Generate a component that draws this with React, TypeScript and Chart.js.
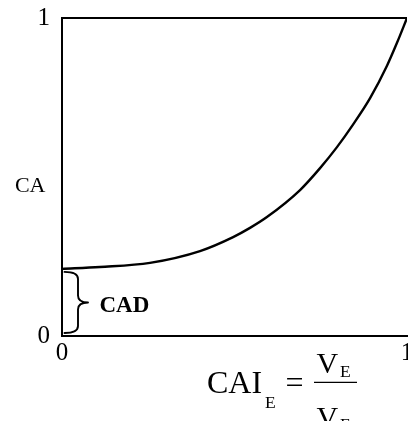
import React, { useEffect, useRef } from "react";
import { Chart, registerables } from "chart.js";

Chart.register(...registerables);

// CAI_E values (x) and CA values (y)
const caiValues = [0, 0.11, 0.255, 0.4, 0.496, 0.545, 0.594, 0.69, 0.748, 0.797, 0.843, 0.893, 0.942, 0.971, 1.0];
const caValues = [0.211, 0.217, 0.23, 0.267, 0.311, 0.34, 0.374, 0.459, 0.528, 0.594, 0.664, 0.748, 0.850, 0.922, 1.0];
const xTickValues = [0, 1];
const yTickValues = [0, 1];
const yAxisLabel = "CA";
const braceLabel = "CAD";

const SERIF = "'Liberation Serif', 'Times New Roman', serif";

const annotations = {
  id: "annotations",
  afterDraw(chart: any) {
    const { ctx, chartArea, scales } = chart;
    const left = chartArea.left;
    const bottom = chartArea.bottom;
    const y = scales.y;
    ctx.save();
    ctx.fillStyle = "#000";
    ctx.strokeStyle = "#000";
    ctx.textBaseline = "alphabetic";

    // y-axis title (horizontal)
    ctx.font = `22px ${SERIF}`;
    ctx.textAlign = "right";
    ctx.fillText(yAxisLabel, left - 16.5, bottom - 144);

    // brace from 0 to the curve's intercept
    const yt = y.getPixelForValue(caValues[0]) + 3;
    const yb = y.getPixelForValue(0) - 3;
    const ym = (yt + yb) / 2;
    const x0 = left + 2.5;
    const xv = left + 16;
    const xt = left + 26;
    const r = 7;
    ctx.lineWidth = 1.9;
    ctx.lineJoin = "round";
    ctx.lineCap = "round";
    ctx.beginPath();
    ctx.moveTo(x0, yt);
    ctx.quadraticCurveTo(xv, yt, xv, yt + r);
    ctx.lineTo(xv, ym - r);
    ctx.quadraticCurveTo(xv, ym, xt, ym);
    ctx.quadraticCurveTo(xv, ym, xv, ym + r);
    ctx.lineTo(xv, yb - r);
    ctx.quadraticCurveTo(xv, yb, x0, yb);
    ctx.stroke();

    ctx.textAlign = "left";
    ctx.font = `bold 23px ${SERIF}`;
    ctx.fillText(braceLabel, left + 37.5, ym + 9.5);

    // x-axis title: CAI_E = V_E / V_F
    ctx.font = `32px ${SERIF}`;
    ctx.fillText("CAI", left + 145, bottom + 57);
    ctx.font = `17.5px ${SERIF}`;
    ctx.fillText("E", left + 203, bottom + 72);
    ctx.font = `32px ${SERIF}`;
    ctx.fillText("=", left + 223.5, bottom + 57);
    ctx.lineWidth = 1.3;
    ctx.lineCap = "butt";
    ctx.beginPath();
    ctx.moveTo(left + 252, bottom + 46.3);
    ctx.lineTo(left + 295, bottom + 46.3);
    ctx.stroke();
    ctx.font = `30px ${SERIF}`;
    ctx.fillText("V", left + 254.5, bottom + 37);
    ctx.fillText("V", left + 254.5, bottom + 90.6);
    ctx.font = `17.5px ${SERIF}`;
    ctx.fillText("E", left + 278, bottom + 40.7);
    ctx.fillText("F", left + 278, bottom + 93.6);
    ctx.restore();
  },
};

export default function App() {
  const ref = useRef<HTMLCanvasElement | null>(null);
  useEffect(() => {
    if (!ref.current) return;
    const chart = new Chart(ref.current, {
      type: "line",
      data: {
        datasets: [
          {
            data: caiValues.map((x, i) => ({ x, y: caValues[i] })),
            borderColor: "#000",
            borderWidth: 2.4,
            pointRadius: 0,
            cubicInterpolationMode: "monotone",
            fill: false,
          },
        ],
      },
      options: {
        animation: false,
        responsive: false,
        devicePixelRatio: 1,
        events: [],
        layout: { padding: { top: 18, right: 33, left: 0, bottom: 0 } },
        plugins: { legend: { display: false }, tooltip: { enabled: false }, title: { display: false } },
        scales: {
          x: {
            type: "linear",
            min: 0,
            max: 1,
            afterBuildTicks: (s: any) => {
              s.ticks = xTickValues.map((v) => ({ value: v }));
            },
            afterFit: (s: any) => {
              s.height = 85;
              s.paddingLeft = 0;
              s.paddingRight = 0;
            },
            grid: { display: false, drawTicks: false },
            border: { display: true, color: "#000", width: 2 },
            ticks: {
              color: "#000",
              padding: 2,
              maxRotation: 0,
              font: { family: SERIF, size: 25 },
              callback: (v: any) => String(v),
            },
          },
          y: {
            type: "linear",
            min: 0,
            max: 1,
            afterBuildTicks: (s: any) => {
              s.ticks = yTickValues.map((v) => ({ value: v }));
            },
            afterFit: (s: any) => {
              s.width = 62;
              s.paddingTop = 0;
              s.paddingBottom = 0;
            },
            grid: {
              display: true,
              drawTicks: false,
              lineWidth: 2,
              color: (c: any) => (c.tick && c.tick.value === 1 ? "#000" : "rgba(0,0,0,0)"),
            },
            border: { display: true, color: "#000", width: 2 },
            ticks: {
              color: "#000",
              padding: 12,
              font: { family: SERIF, size: 25 },
              callback: (v: any) => String(v),
            },
          },
        },
      },
      plugins: [annotations],
    });
    return () => chart.destroy();
  }, []);
  return (
    <div style={{ position: "fixed", left: 0, top: 0, width: 408, height: 421, overflow: "hidden", background: "#fff" }}>
      <canvas ref={ref} width={440} height={421} style={{ display: "block", width: 440, height: 421 }} />
    </div>
  );
}
